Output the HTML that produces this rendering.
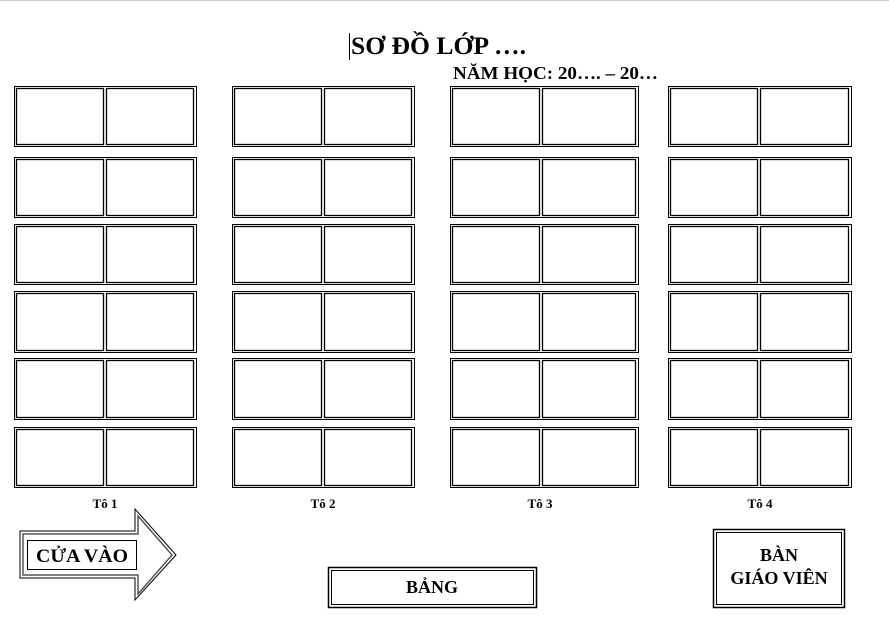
<!DOCTYPE html>
<html><head><meta charset="utf-8"><style>
html,body{margin:0;padding:0;background:#fff;width:889px;height:625px;overflow:hidden}
text{font-family:"Liberation Serif",serif;font-weight:bold;fill:#000}
</style></head><body>
<svg id="s" width="889" height="625" xmlns="http://www.w3.org/2000/svg">
<line x1="0" y1="0.5" x2="889" y2="0.5" stroke="#ccc" stroke-width="1"/>
<line x1="349.5" y1="33" x2="349.5" y2="60" stroke="#000" stroke-width="1"/>
<text x="351" y="54" font-size="25" textLength="175" lengthAdjust="spacingAndGlyphs">SƠ ĐỒ LỚP ….</text>
<text x="453" y="79" font-size="18" textLength="205" lengthAdjust="spacingAndGlyphs">NĂM HỌC: 20…. – 20…</text>
<g id="desks" fill="none" stroke="#000"></g>
<text x="105" y="508" font-size="13" text-anchor="middle">Tô 1</text>
<text x="323" y="508" font-size="13" text-anchor="middle">Tô 2</text>
<text x="540" y="508" font-size="13" text-anchor="middle">Tô 3</text>
<text x="760" y="508" font-size="13" text-anchor="middle">Tô 4</text>
<polygon points="20,531 135,531 135,509 176,555 135,600 135,578 20,578" fill="none" stroke="#000" stroke-width="1"/>
<polygon points="23,534 138,534 138,516 172,555 138,594 138,575 23,575" fill="none" stroke="#555" stroke-width="1.5"/>
<rect x="27.5" y="540.5" width="109" height="29" fill="#fff" stroke="#000"/>
<text x="82" y="562" font-size="19" text-anchor="middle" textLength="92" lengthAdjust="spacingAndGlyphs">CỬA VÀO</text>
<rect x="328.5" y="567.5" width="208" height="40" fill="none" stroke="#000" stroke-width="1.5"/>
<rect x="331.5" y="570.5" width="202" height="34" fill="none" stroke="#000"/>
<text x="432" y="593" font-size="18" text-anchor="middle">BẢNG</text>
<rect x="713.5" y="529.5" width="131" height="78" fill="none" stroke="#000" stroke-width="1.5"/>
<rect x="716.5" y="532.5" width="125" height="72" fill="none" stroke="#000"/>
<text x="779" y="561" font-size="18" text-anchor="middle">BÀN</text>
<text x="779" y="584" font-size="18" text-anchor="middle">GIÁO VIÊN</text>
</svg>
<script>
var g=document.getElementById('desks'),ns='http://www.w3.org/2000/svg';
var groups=[[14,105,196],[232,323,414],[450,541,638],[668,759,851]];
var rows=[[86,146],[157,217],[224,284],[291,352],[358,419],[427,487]];
function r(x,y,w,h,sw){var e=document.createElementNS(ns,'rect');e.setAttribute('x',x);e.setAttribute('y',y);e.setAttribute('width',w);e.setAttribute('height',h);e.setAttribute('stroke-width',sw);g.appendChild(e);}
groups.forEach(function(G){rows.forEach(function(R){
 r(G[0]+.5,R[0]+.5,G[2]-G[0],R[1]-R[0],1);
 r(G[0]+2.5,R[0]+2.5,G[1]-G[0]-4,R[1]-R[0]-4,1.3);
 r(G[1]+1.5,R[0]+2.5,G[2]-G[1]-4,R[1]-R[0]-4,1.3);
});});
</script>
</body></html>
